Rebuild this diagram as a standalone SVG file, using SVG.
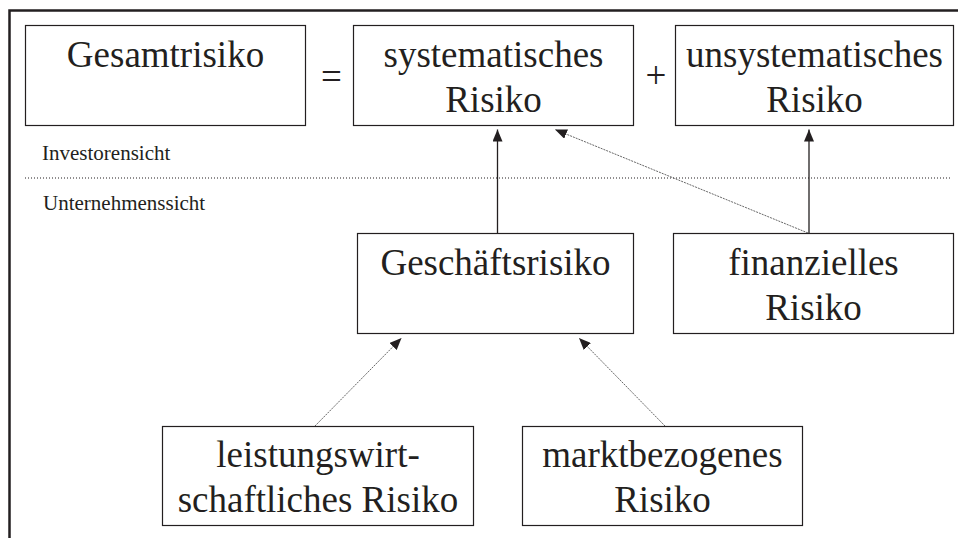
<svg xmlns="http://www.w3.org/2000/svg" width="958" height="538" viewBox="0 0 958 538">
<defs>
<style>
.box{fill:#fff;stroke:#231f20;stroke-width:1.2}
.big{font-size:37px;fill:#231f20;text-anchor:middle}
.small{font-size:21px;fill:#231f20}
.solid{stroke:#231f20;stroke-width:1.3;fill:none}
.thin{stroke:#555;stroke-width:0.9;stroke-dasharray:2 1;fill:none}
</style>
<marker id="ah" markerUnits="userSpaceOnUse" markerWidth="13" markerHeight="10" refX="12" refY="5" orient="auto">
<path d="M0,0 L12,5 L0,10 z" fill="#231f20"/>
</marker>
</defs>
<rect width="958" height="538" fill="#fff"/>
<g font-family="'Liberation Serif', 'DejaVu Serif', 'Times New Roman', serif">
<path d="M9.5,538 V10.5 H958" fill="none" stroke="#231f20" stroke-width="2.5"/>
<line x1="25" y1="178" x2="951" y2="178" stroke="#231f20" stroke-width="1.2" stroke-dasharray="1 2"/>
<text class="small" x="42" y="160">Investorensicht</text>
<text class="small" x="43" y="210">Unternehmenssicht</text>
<text class="big" x="331.5" y="89">=</text>
<text class="big" x="656" y="88">+</text>
<g id="connectors">
<line class="solid" x1="497.5" y1="233" x2="497.5" y2="129.5" marker-end="url(#ah)"/>
<line class="solid" x1="809" y1="233" x2="809" y2="129.5" marker-end="url(#ah)"/>
<line class="thin" x1="808" y1="233" x2="555" y2="129.5" marker-end="url(#ah)"/>
<line class="thin" x1="315" y1="426" x2="401.5" y2="338" marker-end="url(#ah)"/>
<line class="thin" x1="665" y1="426" x2="579" y2="338" marker-end="url(#ah)"/>
</g>
<g id="gesamtrisiko">
<rect class="box" x="25.5" y="25.5" width="280" height="100"/>
<text class="big" x="165.5" y="67">Gesamtrisiko</text>
</g>
<g id="systematisch">
<rect class="box" x="353.5" y="25.5" width="280" height="100"/>
<text class="big" x="493.5" y="67">systematisches</text>
<text class="big" x="493.5" y="111.5">Risiko</text>
</g>
<g id="unsystematisch">
<rect class="box" x="675.5" y="25.5" width="278" height="100"/>
<text class="big" x="814.5" y="67">unsystematisches</text>
<text class="big" x="814.5" y="111.5">Risiko</text>
</g>
<g id="geschaeftsrisiko">
<rect class="box" x="357.5" y="233.5" width="276" height="100"/>
<text class="big" x="495.5" y="275">Geschäftsrisiko</text>
</g>
<g id="finanziell">
<rect class="box" x="673.5" y="233.5" width="280" height="100"/>
<text class="big" x="813.5" y="275">finanzielles</text>
<text class="big" x="813.5" y="320">Risiko</text>
</g>
<g id="leistungswirtschaftlich">
<rect class="box" x="162.5" y="426.5" width="311" height="99"/>
<text class="big" x="318" y="467">leistungswirt-</text>
<text class="big" x="318" y="512">schaftliches Risiko</text>
</g>
<g id="marktbezogen">
<rect class="box" x="522.5" y="426.5" width="280" height="99"/>
<text class="big" x="662.5" y="467">marktbezogenes</text>
<text class="big" x="662.5" y="512">Risiko</text>
</g>
</g>
</svg>
